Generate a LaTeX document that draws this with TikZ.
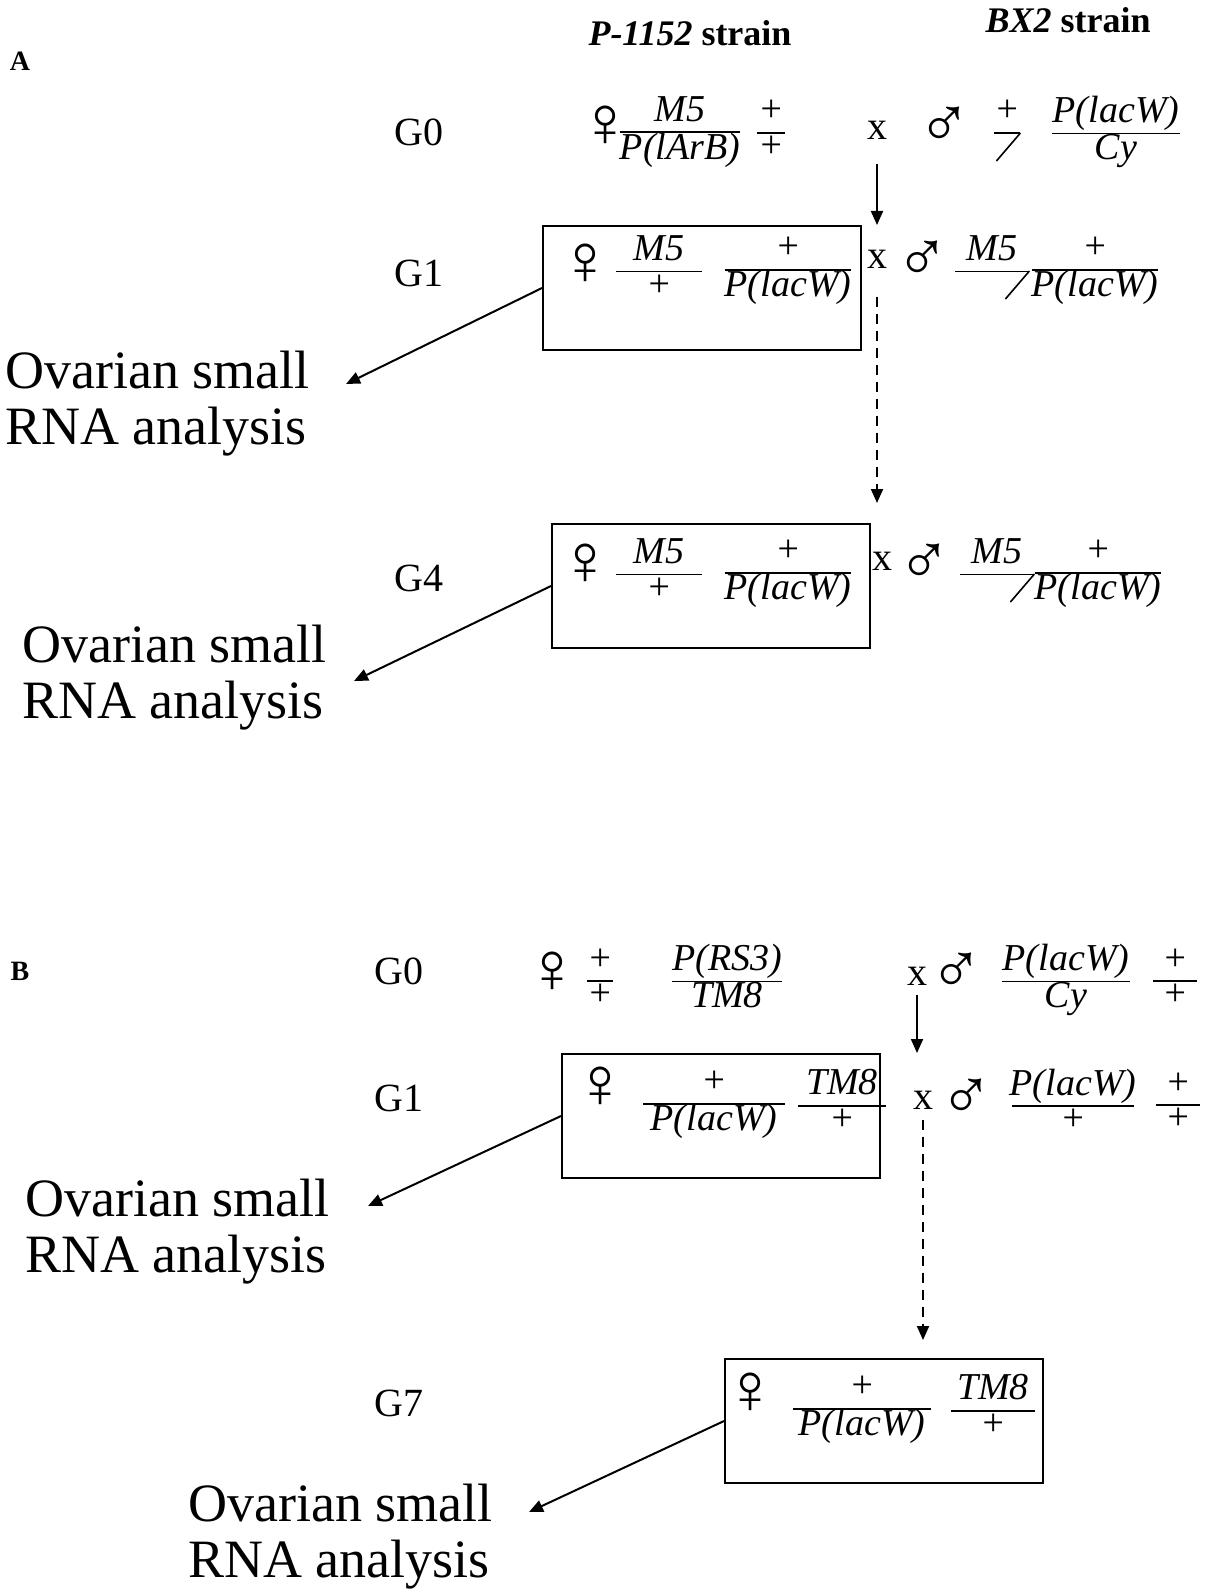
\documentclass[tikz,border=0pt]{standalone}
\usepackage{fontspec}
\setmainfont{Liberation Serif}
\usetikzlibrary{arrows.meta}
\setlength{\arrayrulewidth}{0.8pt}
\newcommand{\gfrac}[3]{\renewcommand{\arraystretch}{0.85}%
  \begin{tabular}{@{}c@{}}\makebox[#1]{#2}\\\hline #3\end{tabular}}

\begin{document}
\begin{tikzpicture}[x=0.5pt, y=-0.5pt,
  gen/.style={font=\fontsize{20}{24}\selectfont},
  geno/.style={inner sep=0pt, font=\fontsize{19}{20}\selectfont\itshape},
  sex/.style={inner sep=0pt, font=\fontsize{36}{40}\selectfont},
  cross/.style={inner sep=0pt, font=\fontsize{20}{24}\selectfont},
  crossbox/.style={draw, line width=1pt, minimum width=159pt, minimum height=62pt},
  result/.style={anchor=west, align=left, inner sep=0pt, font=\fontsize{27}{28}\selectfont},
  strain/.style={font=\fontsize{18}{20}\selectfont\bfseries},
  panel/.style={font=\fontsize{14}{16}\selectfont\bfseries},
  ychr/.style={line width=0.8pt},
  gen arrow/.style={-{Triangle[length=7pt,width=6pt]}, line width=1pt},
]
\useasboundingbox (0,0) rectangle (1204,1594);

% panel A
\node[panel] (pA) at (20,61) {A};
\node[strain] (sP) at (690,33) {\textit{P-1152} strain};
\node[strain] (sB) at (1068,20) {\textit{BX2} strain};

\node[gen] (gA0) at (419,132) {G0};
\node[sex] (fA0) at (605,126) {♀};
\node[geno] (fA0a) at (680,133) {\gfrac{59pt}{M5}{P(lArB)}};
\node[geno] (fA0b) at (771,133) {\gfrac{14pt}{+}{+}};
\node[cross] (xA0) at (877,130) {x};
\node[sex] (mA0) at (944,127) {♂};
\node[geno] (mA0a) at (1007,133) {\gfrac{13pt}{+}{\mbox{}}};
\draw[ychr] (mA0a.east) -- ++(-24,28);
\node[geno] (mA0b) at (1116,133) {\gfrac{64pt}{P(lacW)}{Cy}};

\node[crossbox] (bA1) at (702,288) {};
\node[gen] (gA1) at (419,273) {G1};
\node[sex] (fA1) at (585,264) {♀};
\node[geno] (fA1a) at (659,271) {\gfrac{43pt}{M5}{+}};
\node[geno] (fA1b) at (788,271) {\gfrac{58pt}{+}{P(lacW)}};
\node[cross] (xA1) at (877,259) {x};
\node[sex] (mA1) at (922,261) {♂};
\node[geno] (mA1a) at (992,271) {\gfrac{37pt}{M5}{\mbox{}}};
\draw[ychr] (mA1a.east) -- ++(-24,28);
\node[geno] (mA1b) at (1095,271) {\gfrac{63pt}{+}{P(lacW)}};
\node[result] (oA1) at (5,404) {Ovarian small\\RNA analysis};
\coordinate (tA1) at (346,384);

\node[crossbox] (bA4) at (711,586) {};
\node[gen] (gA4) at (419,578) {G4};
\node[sex] (fA4) at (585,564) {♀};
\node[geno] (fA4a) at (659,574) {\gfrac{43pt}{M5}{+}};
\node[geno] (fA4b) at (788,574) {\gfrac{58pt}{+}{P(lacW)}};
\node[cross] (xA4) at (882,561) {x};
\node[sex] (mA4) at (924,564) {♂};
\node[geno] (mA4a) at (997,574) {\gfrac{37pt}{M5}{\mbox{}}};
\draw[ychr] (mA4a.east) -- ++(-24,28);
\node[geno] (mA4b) at (1098,574) {\gfrac{63pt}{+}{P(lacW)}};
\node[result] (oA4) at (22,678) {Ovarian small\\RNA analysis};
\coordinate (tA4) at (354,681);
\coordinate (dA) at (877,503);

\draw[gen arrow] ([yshift=-12pt]xA0.south) -- (xA0 |- bA1.north);
\draw[gen arrow, dashed, dash pattern=on 5pt off 3.5pt] ([yshift=-14pt]xA1.south) -- (dA);
\draw[gen arrow] (bA1.west) -- (tA1);
\draw[gen arrow] (bA4.west) -- (tA4);

% panel B
\node[panel] (pB) at (20,971) {B};
\node[gen] (gB0) at (399,971) {G0};
\node[sex] (fB0) at (552,972) {♀};
\node[geno] (fB0a) at (600,981) {\gfrac{11pt}{+}{+}};
\node[geno] (fB0b) at (727,981) {\gfrac{55pt}{P(RS3)}{TM8}};
\node[cross] (xB0) at (917,976) {x};
\node[sex] (mB0) at (956,973) {♂};
\node[geno] (mB0a) at (1066,981) {\gfrac{64pt}{P(lacW)}{Cy}};
\node[geno] (mB0b) at (1175,981) {\gfrac{22pt}{+}{+}};

\node[crossbox] (bB1) at (721,1116) {};
\node[gen] (gB1) at (399,1098) {G1};
\node[sex] (fB1) at (600,1087) {♀};
\node[geno] (fB1a) at (714,1105) {\gfrac{71pt}{+}{P(lacW)}};
\node[geno] (fB1b) at (842,1105) {\gfrac{44pt}{TM8}{+}};
\node[cross] (xB1) at (923,1100) {x};
\node[sex] (mB1) at (966,1099) {♂};
\node[geno] (mB1a) at (1073,1105) {\gfrac{61pt}{P(lacW)}{+}};
\node[geno] (mB1b) at (1178,1105) {\gfrac{22pt}{+}{+}};
\node[result] (oB1) at (25,1232) {Ovarian small\\RNA analysis};
\coordinate (tB1) at (368,1206);
\coordinate (dB) at (923,1340);

\node[crossbox] (bB7) at (884,1421) {};
\node[gen] (gB7) at (399,1403) {G7};
\node[sex] (fB7) at (750,1393) {♀};
\node[geno] (fB7a) at (862,1410) {\gfrac{69pt}{+}{P(lacW)}};
\node[geno] (fB7b) at (993,1410) {\gfrac{42pt}{TM8}{+}};
\node[result] (oB7) at (188,1537) {Ovarian small\\RNA analysis};
\coordinate (tB7) at (529,1512);

\draw[gen arrow] ([yshift=-4.5pt]xB0.south) -- (xB0 |- bB1.north);
\draw[gen arrow, dashed, dash pattern=on 5pt off 3.5pt] ([yshift=-5pt]xB1.south) -- (dB);
\draw[gen arrow] (bB1.west) -- (tB1);
\draw[gen arrow] (bB7.west) -- (tB7);
\end{tikzpicture}
\end{document}
